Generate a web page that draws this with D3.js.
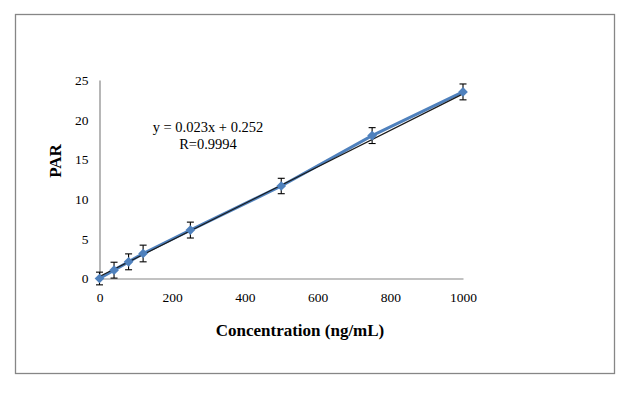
<!DOCTYPE html>
<html>
<head>
<meta charset="utf-8">
<script src="https://cdn.jsdelivr.net/npm/d3@7"></script>
<style>
  body { margin: 0; background: #fff; }
  text { font-family: "Liberation Serif", "Times New Roman", serif; }
</style>
</head>
<body>
<svg width="632" height="396"></svg>
<script>
// calibration data
var conc = [0, 40, 80, 120, 250, 500, 750, 1000];
var par = [0, 1.05, 2.1, 3.15, 6.1, 11.65, 18.0, 23.5];
var err = [0.8, 1.0, 1.0, 1.05, 1.0, 0.97, 1.0, 1.0];
var xTicks = [0, 200, 400, 600, 800, 1000];
var yTicks = [0, 5, 10, 15, 20, 25];
var slope = 0.023, intercept = 0.252;

var svg = d3.select("svg");

// outer frame
svg.append("rect")
    .attr("x", 15.5).attr("y", 14.5)
    .attr("width", 599).attr("height", 359)
    .attr("fill", "none")
    .attr("stroke", "#868686")
    .attr("stroke-width", 1.3);

var x = d3.scaleLinear().domain([0, 1000]).range([99.5, 463]);
var y = d3.scaleLinear().domain([0, 25]).range([278.5, 80]);

// axes, no tick marks
var gx = svg.append("g")
    .attr("transform", "translate(0," + y(0) + ")")
    .call(d3.axisBottom(x).tickValues(xTicks).tickFormat(d3.format("d")).tickSize(0).tickPadding(14));
var gy = svg.append("g")
    .attr("transform", "translate(" + x(0) + ",0)")
    .call(d3.axisLeft(y).tickValues(yTicks).tickSize(0).tickPadding(11));

[gx, gy].forEach(function(g) {
  g.select(".domain").attr("stroke", "#868686").attr("stroke-width", 1.2);
  g.selectAll("text")
      .attr("font-family", "Liberation Serif")
      .attr("font-size", 13.5)
      .attr("fill", "#000");
});

// series line
var line = d3.line()
    .x(function(d, i) { return x(conc[i]); })
    .y(function(d) { return y(d); });

svg.append("path")
    .datum(par)
    .attr("d", line)
    .attr("fill", "none")
    .attr("stroke", "#4F81BD")
    .attr("stroke-width", 3);

// trendline
svg.append("line")
    .attr("x1", x(0)).attr("y1", y(intercept))
    .attr("x2", x(1000)).attr("y2", y(slope * 1000 + intercept))
    .attr("stroke", "#1a1a1a")
    .attr("stroke-width", 1.2);

// error bars
var eb = svg.append("g").attr("stroke", "#000").attr("stroke-width", 1.1);
par.forEach(function(v, i) {
  var cx = x(conc[i]);
  eb.append("line").attr("x1", cx).attr("x2", cx).attr("y1", y(v + err[i])).attr("y2", y(v - err[i]));
  eb.append("line").attr("x1", cx - 3.5).attr("x2", cx + 3.5).attr("y1", y(v + err[i])).attr("y2", y(v + err[i]));
  eb.append("line").attr("x1", cx - 3.5).attr("x2", cx + 3.5).attr("y1", y(v - err[i])).attr("y2", y(v - err[i]));
});

// diamond markers
svg.append("g").selectAll("path")
    .data(par)
  .enter().append("path")
    .attr("transform", function(d, i) { return "translate(" + x(conc[i]) + "," + y(d) + ")"; })
    .attr("d", d3.symbol().type(d3.symbolDiamond2).size(60))
    .attr("fill", "#4F81BD");

// equation
svg.append("text")
    .attr("x", 208).attr("y", 132)
    .attr("text-anchor", "middle")
    .attr("font-size", 14.5)
    .text("y = 0.023x + 0.252");
svg.append("text")
    .attr("x", 208).attr("y", 149)
    .attr("text-anchor", "middle")
    .attr("font-size", 14.5)
    .text("R=0.9994");

// axis titles
svg.append("text")
    .attr("x", 300).attr("y", 336)
    .attr("text-anchor", "middle")
    .attr("font-size", 17)
    .attr("font-weight", "bold")
    .text("Concentration (ng/mL)");
svg.append("text")
    .attr("transform", "translate(61,161) rotate(-90)")
    .attr("text-anchor", "middle")
    .attr("font-size", 17)
    .attr("font-weight", "bold")
    .text("PAR");
</script>
</body>
</html>
